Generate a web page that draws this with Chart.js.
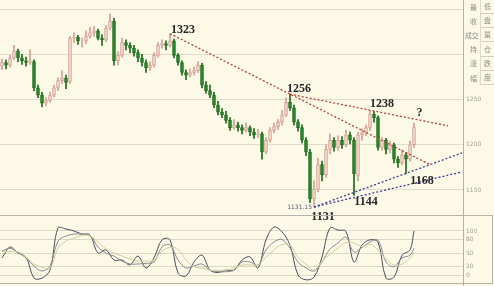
<!DOCTYPE html>
<html>
<head>
<meta charset="utf-8">
<script src="https://cdn.jsdelivr.net/npm/chart.js@4.4.1/dist/chart.umd.min.js"></script>
<style>
  html, body { margin: 0; padding: 0; background: #fcf9e7; }
  #wrap { position: relative; width: 494px; height: 286px; overflow: hidden; background: #fcf9e7; }
  canvas { position: absolute; left: 0; }
  #price { top: 0; z-index: 2; }
  #osc { top: 216px; z-index: 1; }
  .menu { position: absolute; left: 463px; top: 0; width: 31px; height: 90px; z-index: 3;
          font-family: "Noto Sans CJK SC", sans-serif; font-size: 7px; color: #8e8e8a; }
  .menu .l { position: absolute; left: 5px; width: 11px; text-align: center; line-height: 13px; }
  .menu .r { position: absolute; left: 17px; width: 14px; text-align: center; border-left: 1px solid #dedbcc; border-bottom: 1px solid #d2cfbf; box-sizing: border-box; height: 14px; line-height: 13px; }
</style>
</head>
<body>
<div id="wrap">
  <canvas id="osc" width="494" height="70"></canvas>
  <canvas id="price" width="494" height="286"></canvas>
  <div class="menu" id="menu"></div>
</div>
<script>
// Daily OHLC bars
const opens  = [1287,1291,1288,1296,1304,1296,1293,1291,1292,1263, 1255,1246,1249,1255,1263,1271,1274,1270,1318,1319,
                1315,1315,1320,1324,1326,1318,1316,1329,1337,1293, 1299,1313,1310,1307,1302,1296,1291,1285,1288,1299,
                1310,1312,1310,1315,1299,1291,1280,1277,1280,1282, 1288,1266,1260,1255,1244,1236,1233,1227,1219,1222,
                1219,1216,1219,1214,1211,1212,1192,1205,1216,1220, 1225,1233,1247,1241,1225,1219,1205,1192,1140,1151,
                1178,1167,1195,1205,1197,1205,1200,1211,1205,1166, 1211,1213,1219,1234,1230,1197,1205,1195,1200,1184,
                1180,1189,1184,1200];
const highs  = [1295,1294,1299,1310,1306,1300,1297,1305,1294,1266, 1258,1252,1258,1266,1274,1282,1277,1320,1324,1321,
                1318,1326,1330,1331,1328,1322,1332,1345,1340,1303, 1318,1316,1313,1310,1305,1300,1294,1292,1302,1313,
                1316,1315,1323,1317,1301,1293,1283,1284,1286,1292, 1290,1270,1266,1258,1248,1240,1237,1230,1228,1225,
                1222,1224,1221,1218,1217,1214,1208,1219,1224,1228, 1238,1252,1256,1244,1228,1222,1208,1195,1160,1185,
                1182,1200,1212,1208,1210,1209,1216,1214,1208,1214, 1218,1222,1238,1237,1232,1208,1207,1204,1202,1187,
                1194,1191,1204,1224];
const lows   = [1283,1284,1286,1294,1292,1289,1287,1289,1260,1252, 1242,1243,1247,1253,1260,1268,1262,1268,1313,1311,
                1308,1312,1318,1320,1316,1310,1314,1327,1288,1288, 1297,1305,1302,1298,1292,1287,1280,1282,1286,1297,
                1307,1305,1308,1296,1288,1277,1272,1275,1277,1280, 1263,1257,1252,1241,1233,1230,1224,1216,1217,1215,
                1212,1214,1210,1207,1208,1184,1190,1203,1213,1217, 1222,1231,1238,1222,1215,1202,1188,1136,1131.15,1148,
                1160,1164,1190,1193,1194,1196,1198,1201,1144,1160, 1205,1210,1216,1225,1194,1194,1190,1191,1180,1175,
                1178,1168,1182,1197];
const closes = [1291,1288,1296,1304,1296,1293,1291,1293,1263,1255, 1246,1249,1255,1263,1271,1274,1269,1318,1319,1315,
                1315,1320,1324,1326,1318,1316,1329,1337,1293,1299, 1313,1310,1307,1302,1296,1291,1285,1288,1299,1310,
                1312,1310,1315,1299,1291,1280,1277,1280,1282,1288, 1266,1260,1255,1244,1236,1233,1227,1219,1222,1219,
                1216,1219,1214,1211,1212,1192,1205,1216,1220,1225, 1233,1247,1241,1225,1219,1205,1192,1140,1151,1178,
                1167,1195,1205,1197,1205,1200,1211,1205,1168,1211, 1213,1219,1234,1230,1197,1205,1195,1200,1184,1180,
                1189,1184,1200,1219];
const days = opens.map((_, i) => i);

// Price axis ticks
const priceTicks = [1150, 1200, 1250, 1300, 1350];

// Turning points (bar index, which extreme)
const pivotBars  = [42, 72, 92, 78, 88, 101];
const pivotSides = ['high', 'high', 'high', 'low', 'low', 'low'];

// Trend lines, as [bar index, price] pairs
const resistanceA = [[42, 1323], [107, 1178]];
const resistanceB = [[72, 1256], [111.5, 1221]];
const supportA    = [[78, 1131.15], [115, 1191]];
const supportB    = [[78, 1131.15], [115, 1170]];

// Stochastic oscillator (sampled on bar index)
const oscBars = [0,2,4,6,8,10,12,14,16,18,20,22,24,26,28,30,32,34,36,38,40,42,44,46,48,50,
                 52,54,56,58,60,62,64,66,68,70,72,74,76,78,80,82,84,86,88,90,92,94,96,98,100,102,103];
const kLine = [38.6,63.6,50,41,-7,-7,11,107,104.5,100,93,91,50,57,34,34,23,43,16,39,80,80,4.5,-2,29.5,45,
               11,5.7,11,11,34,41,16,80,109,98,68,0,-11,-5,41,107,102,99,29.5,68,80,75,-7,-5,45,57,100];
const dLine = [54.5,60.7,51,38.6,20,9,20,77,88.6,93,93,91,63.6,50,43,31.8,25,25,26.6,29.5,63.6,68,34,16,20.5,25,
               11,7.5,7.5,11,29.5,29.5,22.7,57,75,80.7,61,29.5,16,9,29.5,59,72.7,86,52,62.5,75,79.5,29.5,19,38.6,45,61];
const jLine = [53,53,53,41,25,17.5,15,61,77,84,90,88.6,75,59,50,43,36,31.8,31.8,34,54.5,62.5,59,34,19,15,
               11,11,11,16,22.7,22.7,22.7,41,57,69,68,40,25,11,30.7,47.7,61,74,72.7,64.8,70,57,36,22.7,25,38.6,52];
const oscTicks = [0, 20, 50, 80, 100];

// Side menu captions
const menuLeft  = ['最', '收', '成交', '持', '涨', '幅'];
const menuRight = ['低', '盘', '量', '仓', '跌', '度'];

const X_MIN = -0.5, X_MAX = 115.25;
const UP_FILL = '#f3d9d0', UP_EDGE = '#d6a196', DOWN_FILL = '#2c8a2c', DOWN_EDGE = '#1c6b1c';
const isUp = i => closes[i] >= opens[i];

const line = (pts, color) => ({
  type: 'line', data: pts.map(p => ({ x: p[0], y: p[1] })), borderColor: color, borderWidth: 1.3,
  borderDash: [2, 2], pointRadius: 0, fill: false, order: 0
});

// Pivot captions and panel frames
const pivotStyle = [
  { dx: 13, dy: -3.5 }, { dx: 9, dy: -5.5 }, { dx: 12, dy: -6.6 },
  { dx: 9, dy: 9.5 }, { dx: 12, dy: 7 }, { dx: 16, dy: 7 }
];
const overlay = {
  id: 'overlay',
  afterDatasetsDraw(chart) {
    const { ctx, scales: { x, y } } = chart;
    ctx.save();
    ctx.fillStyle = '#262626';
    ctx.font = 'bold 12px "Liberation Serif", serif';
    ctx.textAlign = 'center';
    ctx.textBaseline = 'middle';
    pivotBars.forEach((b, k) => {
      const v = pivotSides[k] === 'high' ? highs[b] : lows[b];
      const px = x.getPixelForValue(b) + pivotStyle[k].dx;
      const py = y.getPixelForValue(v) + pivotStyle[k].dy;
      ctx.fillText(String(Math.round(v)), px, py);
    });
    // question mark over the last bar
    const last = days.length - 1;
    ctx.fillText('?', x.getPixelForValue(last) + 5.5, y.getPixelForValue(highs[last]) - 10.5);
    // exact low tag
    const lowBar = pivotBars[3];
    ctx.font = '6px "DejaVu Sans", sans-serif';
    ctx.fillStyle = '#5a5a7a';
    ctx.textAlign = 'right';
    ctx.fillText(lows[lowBar].toFixed(2), x.getPixelForValue(lowBar) - 2, y.getPixelForValue(lows[lowBar]));
    // panel frames
    ctx.strokeStyle = '#b4b2a6';
    ctx.lineWidth = 1;
    ctx.beginPath();
    ctx.moveTo(0, 215.5); ctx.lineTo(493, 215.5);
    ctx.moveTo(0, 283.5); ctx.lineTo(493, 283.5);
    ctx.moveTo(492.5, 215.5); ctx.lineTo(492.5, 283.5);
    ctx.moveTo(463.5, 215.5); ctx.lineTo(463.5, 286);
    ctx.stroke();
    ctx.restore();
  }
};

new Chart(document.getElementById('price'), {
  type: 'bar',
  data: {
    datasets: [
      line(resistanceA, '#b5443a'),
      line(resistanceB, '#b5443a'),
      line(supportA, '#3b3f94'),
      line(supportB, '#3b3f94'),
      {
        data: days.map(i => ({ x: i, y: [opens[i], closes[i]] })),
        backgroundColor: days.map(i => isUp(i) ? UP_FILL : DOWN_FILL),
        borderColor: days.map(i => isUp(i) ? UP_EDGE : DOWN_EDGE),
        borderWidth: 1, borderSkipped: false, barThickness: 3, grouped: false, order: 1
      },
      {
        data: days.map(i => ({ x: i, y: [lows[i], highs[i]] })),
        backgroundColor: days.map(i => isUp(i) ? UP_EDGE : DOWN_EDGE),
        barThickness: 1, grouped: false, order: 2
      }
    ]
  },
  options: {
    responsive: false, animation: false, events: [],
    layout: { padding: { left: 0, right: 0, top: 0, bottom: 71 } },
    plugins: { legend: { display: false }, tooltip: { enabled: false } },
    scales: {
      x: { type: 'linear', min: X_MIN, max: X_MAX, display: false, offset: false },
      y: {
        position: 'right', min: 1122.3, max: 1360.2,
        afterBuildTicks: s => { s.ticks = priceTicks.map(v => ({ value: v })); },
        afterFit: s => { s.width = 31; s.paddingTop = 0; s.paddingBottom = 0; },
        grid: { color: '#e0ddcc', drawTicks: false },
        border: { display: true, color: '#b4b2a6' },
        ticks: {
          padding: 3, color: '#a4a39a', font: { size: 6, family: '"DejaVu Sans", sans-serif' },
          callback: v => (v <= 1250 ? String(v) : '')
        }
      }
    }
  },
  plugins: [overlay]
});

const oscSet = (vals, color) => ({
  data: oscBars.map((b, k) => ({ x: b, y: vals[k] })), borderColor: color, borderWidth: 1,
  pointRadius: 0, tension: 0.35, fill: false
});

new Chart(document.getElementById('osc'), {
  type: 'line',
  data: { datasets: [oscSet(jLine, '#cfd09e'), oscSet(dLine, '#8c8c90'), oscSet(kLine, '#4c4c62')] },
  options: {
    responsive: false, animation: false, events: [],
    layout: { padding: { left: 0, right: 0, top: 0, bottom: 3 } },
    plugins: { legend: { display: false }, tooltip: { enabled: false } },
    scales: {
      x: { type: 'linear', min: X_MIN, max: X_MAX, display: false, offset: false },
      y: {
        position: 'right', min: -18.18, max: 134.09,
        afterBuildTicks: s => { s.ticks = oscTicks.map(v => ({ value: v })); },
        afterFit: s => { s.width = 31; s.paddingTop = 0; s.paddingBottom = 0; },
        grid: { color: '#dcd9c6', drawTicks: false },
        border: { display: true, color: '#b4b2a6' },
        ticks: { padding: 3, color: '#a4a39a', font: { size: 6, family: '"DejaVu Sans", sans-serif' } }
      }
    }
  }
});

// side menu
const menu = document.getElementById('menu');
menuLeft.forEach((t, k) => {
  const top = k * 14.2;
  const l = document.createElement('div');
  l.className = 'l'; l.textContent = t; l.style.top = (top + 0.5) + 'px';
  if (t.length > 1) { l.style.left = '0px'; l.style.width = '17px'; l.style.letterSpacing = '-0.5px'; }
  const r = document.createElement('div');
  r.className = 'r'; r.textContent = menuRight[k]; r.style.top = top + 'px';
  menu.appendChild(l); menu.appendChild(r);
});
</script>
</body>
</html>
